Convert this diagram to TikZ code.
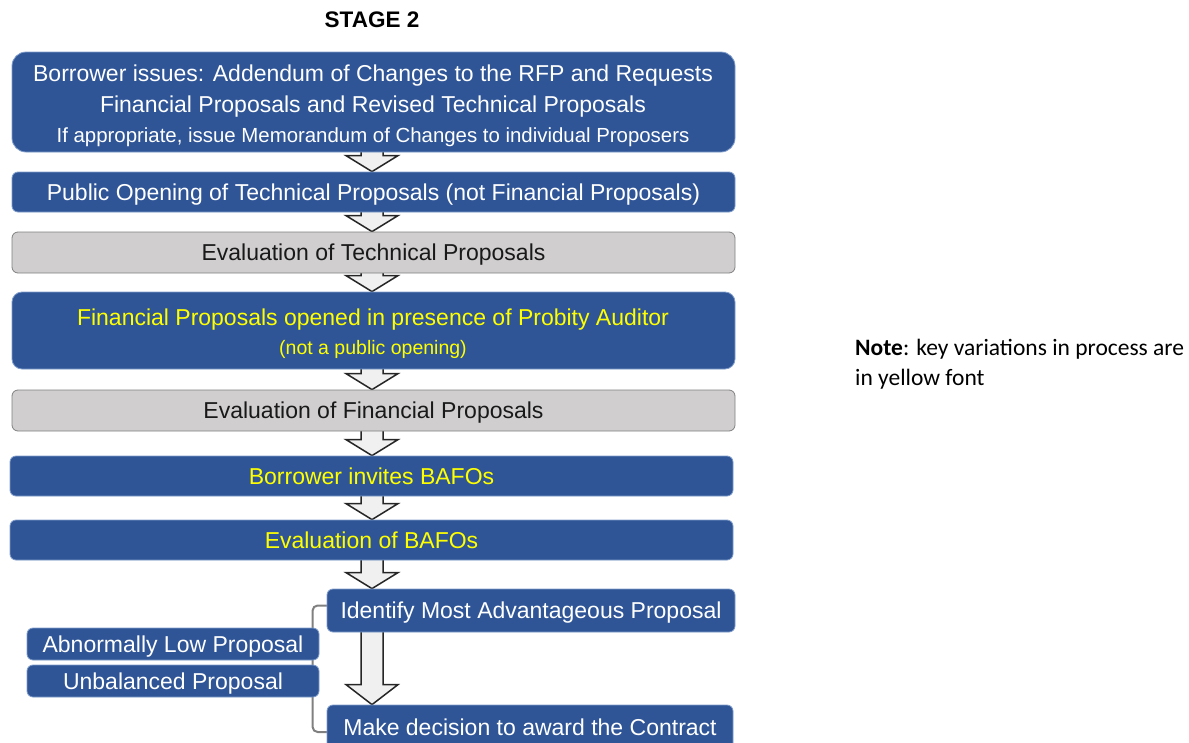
\documentclass[tikz,border=0pt]{standalone}
\usepackage{fontspec}
\setmainfont{Liberation Sans}
\newfontfamily\notefont{Carlito}
\usetikzlibrary{calc,backgrounds}
\definecolor{wbblue}{HTML}{2F5597}
\definecolor{wbedge}{HTML}{7F9CCB}
\definecolor{wbgrey}{HTML}{D0CECE}
\definecolor{wbyellow}{HTML}{FFFF00}
\definecolor{arrfill}{HTML}{F0F0F0}
\tikzset{
  bluebox/.style={draw=wbedge, line width=0.8pt, fill=wbblue, text=white, rounded corners=6pt, inner sep=0pt, align=center, text depth=0pt, font=\fontsize{23}{27}\selectfont},
  greybox/.style={draw=gray, line width=0.8pt, fill=wbgrey, text=black!90, rounded corners=6pt, inner sep=0pt, align=center, text depth=0pt, font=\fontsize{23}{27}\selectfont},
  boxtext/.style={inner sep=0pt, text depth=0pt},
  blockarr/.style={draw=black!85, line width=1.5pt, fill=arrfill, line join=miter},
  bracket/.style={draw=gray, line width=2pt, rounded corners=5pt},
}
\newcommand\blkarrow[3][16]{%
  \path[blockarr] let \p1=(#2.south), \p2=(#3.north) in
    (361pt,\y1+12pt) -- (361pt,\y2+#1pt) -- (346pt,\y2+#1pt) -- (372pt,\y2)
    -- (398pt,\y2+#1pt) -- (383pt,\y2+#1pt) -- (383pt,\y1+12pt) -- cycle;}
\begin{document}
\begin{tikzpicture}[x=1pt,y=-1pt]
\useasboundingbox (0,0) rectangle (1189,742);
\node[boxtext, font=\bfseries\fontsize{22.5}{26}\selectfont] (title) at (372,20) {STAGE 2};

\node[bluebox, minimum width=723pt, minimum height=100pt, rounded corners=14pt] (b1) at (373.5,102) {};
\node[bluebox, minimum width=723pt, minimum height=40pt] (b2) at (373.5,192) {Public Opening of Technical Proposals (not Financial Proposals)};
\node[greybox, minimum width=723pt, minimum height=41pt] (b3) at (373.5,252.5) {Evaluation of Technical Proposals};
\node[bluebox, minimum width=723pt, minimum height=77pt, rounded corners=10pt] (b4) at (373.5,330.5) {};
\node[greybox, minimum width=723pt, minimum height=41pt] (b5) at (373.5,410.5) {Evaluation of Financial Proposals};
\node[bluebox, minimum width=723pt, minimum height=40pt, text=wbyellow] (b6) at (371.5,476) {Borrower invites BAFOs};
\node[bluebox, minimum width=723pt, minimum height=40pt, text=wbyellow] (b7) at (371.5,540) {Evaluation of BAFOs};
\node[bluebox, minimum width=408pt, minimum height=43pt] (b8) at (531,610.5) {Identify Most Advantageous Proposal};
\node[bluebox, minimum width=406pt, minimum height=44pt] (b9) at (530,727) {Make decision to award the Contract};
\node[bluebox, minimum width=292pt, minimum height=32pt] (l1) at (173,644) {Abnormally Low Proposal};
\node[bluebox, minimum width=292pt, minimum height=32pt] (l2) at (173,681) {Unbalanced Proposal};

% texts of multi-line boxes
\node[boxtext, text=white, font=\fontsize{23}{27}\selectfont] (t1a) at (373,73) {Borrower issues: Addendum of Changes to the RFP and Requests};
\node[boxtext, text=white, font=\fontsize{23}{27}\selectfont] (t1b) at (373,104) {Financial Proposals and Revised Technical Proposals};
\node[boxtext, text=white, font=\fontsize{20.4}{24}\selectfont] (t1c) at (373,135) {If appropriate,\ issue Memorandum\ of Changes to individual\ Proposers};
\node[boxtext, text=wbyellow, font=\fontsize{23}{27}\selectfont] (t4a) at (373,317) {Financial Proposals opened in presence of Probity Auditor};
\node[boxtext, text=wbyellow, font=\fontsize{19.5}{23}\selectfont] (t4b) at (373,347) {(not a public opening)};

% note
\node[anchor=base west, align=left, inner sep=0pt, font=\notefont\fontsize{23.5}{30}\selectfont] (note) at (855,385)
  {\textbf{Note}: key variations in process are\\in yellow font};

% arrows and bracket (behind boxes)
\begin{pgfonlayer}{background}
\blkarrow{b1}{b2}
\blkarrow{b2}{b3}
\blkarrow{b3}{b4}
\blkarrow{b4}{b5}
\blkarrow{b5}{b6}
\blkarrow{b6}{b7}
\blkarrow{b7}{b8}
\blkarrow[20]{b8}{b9}
\draw[bracket] ($(b8.west)+(4,-5)$) -- ++(-18,0) |- ($(b9.west)+(4,5)$);
\end{pgfonlayer}
\end{tikzpicture}
\end{document}
